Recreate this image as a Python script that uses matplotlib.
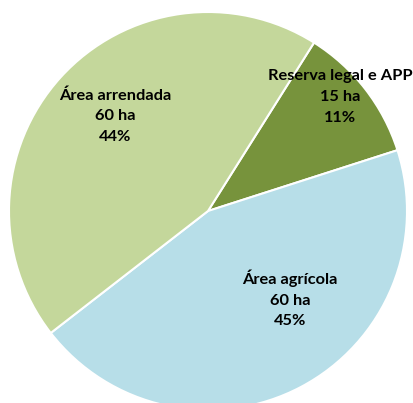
import matplotlib.pyplot as plt

categorias = ['Reserva legal e APP', 'Área agrícola', 'Área arrendada']
hectares = [15, 60, 60]
percentuais = [11, 45, 44]
cores = ['#77933C', '#B7DEE8', '#C4D79B']

# posições dos rótulos (pixels, origem no canto superior esquerdo)
pos_rotulos = [(340, 97), (290, 299), (115, 116)]

W, H = 413, 403
fig = plt.figure(figsize=(W / 100, H / 100), dpi=100)
ax = fig.add_axes([0, 0, 1, 1])

ax.pie(hectares, colors=cores, startangle=57.8, counterclock=False,
       center=(208, H - 211), radius=199,
       wedgeprops=dict(edgecolor='white', linewidth=1.5))

for cat, ha_, pct, (x, y) in zip(categorias, hectares, percentuais, pos_rotulos):
    ax.text(x, H - y, f"{cat}\n{ha_} ha\n{pct}%", ha='center', va='center',
            fontsize=11.8, fontweight='bold', family='Lato', color='black',
            linespacing=1.6)

ax.set_xlim(0, W)
ax.set_ylim(0, H)
ax.set_aspect('equal')
ax.axis('off')

plt.savefig('out.png', dpi=100)
plt.close()
